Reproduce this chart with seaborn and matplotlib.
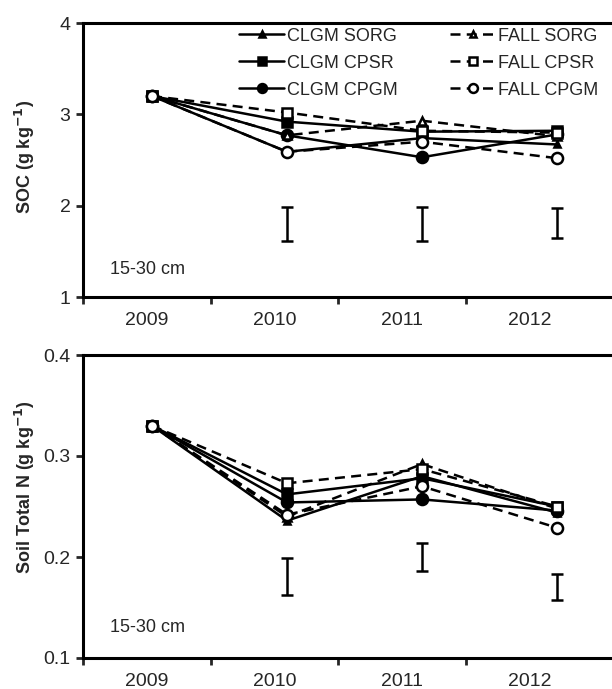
import numpy as np
import pandas as pd
import matplotlib
matplotlib.use("Agg")
import matplotlib.pyplot as plt
import seaborn as sns

years = [2009, 2010, 2011, 2012]
series = ["CLGM SORG", "CLGM CPSR", "CLGM CPGM", "FALL SORG", "FALL CPSR", "FALL CPGM"]

# SOC (g kg-1), 15-30 cm
soc = {
    "CLGM SORG": [3.20, 2.59, 2.74, 2.67],
    "CLGM CPSR": [3.20, 2.92, 2.81, 2.82],
    "CLGM CPGM": [3.20, 2.77, 2.53, 2.78],
    "FALL SORG": [3.20, 2.77, 2.93, 2.76],
    "FALL CPSR": [3.20, 3.02, 2.82, 2.80],
    "FALL CPGM": [3.20, 2.59, 2.70, 2.52],
}
soc_err_lo = [1.61, 1.61, 1.65]
soc_err_hi = [1.99, 1.99, 1.97]

# Soil total N (g kg-1), 15-30 cm
totn = {
    "CLGM SORG": [0.330, 0.236, 0.280, 0.244],
    "CLGM CPSR": [0.330, 0.262, 0.278, 0.250],
    "CLGM CPGM": [0.330, 0.254, 0.257, 0.246],
    "FALL SORG": [0.330, 0.240, 0.292, 0.248],
    "FALL CPSR": [0.330, 0.273, 0.287, 0.250],
    "FALL CPGM": [0.330, 0.242, 0.270, 0.229],
}
totn_err_lo = [0.162, 0.186, 0.157]
totn_err_hi = [0.199, 0.214, 0.183]

sns.set_theme(style="ticks")
plt.rcParams["font.family"] = ["Liberation Sans", "DejaVu Sans"]

markers = {"SORG": "^", "CPSR": "s", "CPGM": "o"}
msizes = {"SORG": 6, "CPSR": 7.5, "CPGM": 8}

fig = plt.figure(figsize=(6.12, 6.89), dpi=100)
ax1 = fig.add_axes([83 / 612, 1 - 297 / 689, 542 / 612, 274 / 689])
ax2 = fig.add_axes([83 / 612, 1 - 658 / 689, 542 / 612, 303 / 689])

# category layout (excel style): boundaries and label centres
x0 = 2008.489
w = 0.946
xmax = x0 + 542 / 135


def draw(ax, data, lo, hi, ylim, yticks, ylabel, ylab_y, legend=False):
    for name in series:
        crop = name.split()[1]
        fall = name.startswith("FALL")
        df = pd.DataFrame({"year": years, "val": data[name]})
        sns.lineplot(data=df, x="year", y="val", ax=ax, color="black",
                     lw=1.8, linestyle=(0, (4, 2.5)) if fall else "-",
                     marker=markers[crop], markersize=msizes[crop] if fall or crop != "SORG" else 5,
                     markerfacecolor="white" if fall else "black",
                     markeredgecolor="black", markeredgewidth=1.8,
                     label=name, zorder=3 if fall else 2)
    lo = np.array(lo)
    hi = np.array(hi)
    ax.errorbar(years[1:], (lo + hi) / 2, yerr=(hi - lo) / 2, fmt="none",
                ecolor="black", elinewidth=1.8, capsize=4, capthick=1.8)
    ax.set_xlim(x0, xmax)
    ax.set_ylim(*ylim)
    ax.set_yticks(yticks)
    ax.set_yticklabels([f"{t:g}" for t in yticks], fontsize=14)
    ax.set_xticks([x0 + (i + 0.5) * w for i in range(4)])
    ax.set_xticklabels([str(y) for y in years], fontsize=14)
    ax.set_xticks([x0 + i * w for i in range(4)], minor=True)
    ax.tick_params(axis="x", which="major", length=0, pad=11)
    ax.tick_params(axis="x", which="minor", length=5, width=2, direction="out")
    ax.tick_params(axis="y", length=5, width=2, direction="out", pad=4)
    ax.set_xlabel("")
    ax.set_ylabel("")
    for s in ax.spines.values():
        s.set_linewidth(2.2)
        s.set_color("black")
    ax.text(0.05, 0.10, "15-30 cm", transform=ax.transAxes, fontsize=13,
            ha="left", va="center")
    fig.text(25 / 612, 1 - ylab_y / 689, ylabel, rotation=90, fontsize=13,
             fontweight="bold", ha="center", va="center")
    if legend:
        ax.legend(ncol=2, loc="upper left", bbox_to_anchor=(0.268, 1.022),
                  frameon=False, fontsize=13, handlelength=2.5,
                  handletextpad=0.15, columnspacing=2.9, labelspacing=0.55,
                  borderaxespad=0.2, markerscale=0.8)
    else:
        leg = ax.get_legend()
        if leg is not None:
            leg.remove()


draw(ax1, soc, soc_err_lo, soc_err_hi, (1, 4), [1, 2, 3, 4],
     "SOC (g kg$^{\\mathbf{-1}}$)", 157, legend=True)
draw(ax2, totn, totn_err_lo, totn_err_hi, (0.1, 0.4), [0.1, 0.2, 0.3, 0.4],
     "Soil Total N (g kg$^{\\mathbf{-1}}$)", 487)

fig.savefig("out.png", dpi=100)
